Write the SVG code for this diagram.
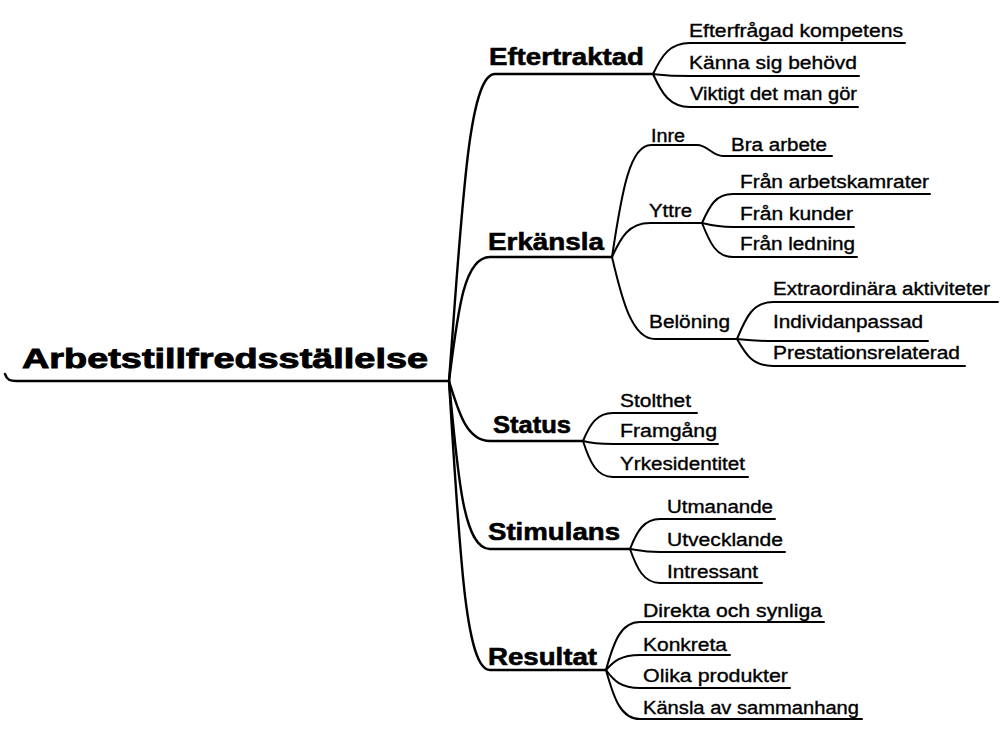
<svg xmlns="http://www.w3.org/2000/svg" width="1001" height="731" viewBox="0 0 1001 731">
  <style>
    .root { font-family: "Liberation Sans", Arial, sans-serif; font-weight: bold; font-size: 28px; fill: #000; stroke: #000; stroke-width: 0.9; }
    .main { font-family: "Liberation Sans", Arial, sans-serif; font-weight: bold; font-size: 24px; fill: #000; stroke: #000; stroke-width: 0.6; }
    .sub  { font-family: "Liberation Sans", Arial, sans-serif; font-size: 18px; fill: #000; stroke: #000; stroke-width: 0.35; }
    .leaf { font-family: "Liberation Sans", Arial, sans-serif; font-size: 18px; fill: #000; stroke: #000; stroke-width: 0.35; }
    .trunk { fill: none; stroke: #000; stroke-width: 2.4; stroke-linecap: round; stroke-linejoin: round; }
    .branch { fill: none; stroke: #000; stroke-width: 2; stroke-linecap: round; stroke-linejoin: round; }
  </style>
  <rect width="1001" height="731" fill="#fff"/>

  <!-- connectors: curved branches ending in the underline of each topic -->
  <g id="connectors">
    <!-- central topic underline -->
    <path class="trunk" d="M5,374 C7,380 10,381 16,381 L449,381"/>
    <!-- central topic to main topics -->
    <path class="trunk" d="M449,381 C462,212 468,74 495,74 L653,74"/>
    <path class="trunk" d="M449,381 C458,310 464,257 490,257 L612,257"/>
    <path class="trunk" d="M449,381 C458,410 466,441 490,441 L583,441"/>
    <path class="trunk" d="M449,381 C458,480 464,549 490,549 L630,549"/>
    <path class="trunk" d="M449,381 C460,560 466,670 490,670 L606,670"/>

    <!-- Eftertraktad -->
    <path class="branch" d="M653,74 C662,55 670,43 690,43 L905,43"/>
    <path class="branch" d="M653,74 C662,75 670,76 690,76 L859,76"/>
    <path class="branch" d="M653,74 C662,94 670,107 690,107 L858,107"/>

    <!-- Erkänsla -->
    <path class="branch" d="M612,257 C622,190 630,145 651,145 L697,145 C708,145 712,156 723,156 L832,156"/>
    <path class="branch" d="M612,257 C621,237 629,223 650,223 L702,223"/>
    <path class="branch" d="M612,257 C622,300 632,339 655,339 L737,339"/>

    <!-- Yttre -->
    <path class="branch" d="M702,223 C710,205 716,194 733,194 L930,194"/>
    <path class="branch" d="M702,223 C710,225 716,227 733,227 L854,227"/>
    <path class="branch" d="M702,223 C710,243 716,257 733,257 L857,257"/>

    <!-- Belöning -->
    <path class="branch" d="M737,339 C746,317 753,302 773,302 L998,302"/>
    <path class="branch" d="M737,339 C746,340 753,341 773,341 L928,341"/>
    <path class="branch" d="M737,339 C746,355 753,366 773,366 L965,366"/>

    <!-- Status -->
    <path class="branch" d="M583,441 C590,424 597,413 613,413 L697,413"/>
    <path class="branch" d="M583,441 C590,443 597,444 613,444 L718,444"/>
    <path class="branch" d="M583,441 C590,463 597,477 613,477 L748,477"/>

    <!-- Stimulans -->
    <path class="branch" d="M630,549 C637,531 644,519 660,519 L775,519"/>
    <path class="branch" d="M630,549 C637,550 644,552 660,552 L785,552"/>
    <path class="branch" d="M630,549 C637,569 644,583 660,583 L762,583"/>

    <!-- Resultat -->
    <path class="branch" d="M606,670 C614,641 621,622 640,622 L824,622"/>
    <path class="branch" d="M606,670 C614,661 621,655 640,655 L730,655"/>
    <path class="branch" d="M606,670 C614,681 621,688 640,688 L790,688"/>
    <path class="branch" d="M606,670 C614,699 621,719 640,719 L862,719"/>
  </g>

  <!-- central topic -->
  <g id="arbetstillfredsstallelse">
    <text class="root" x="22" y="368" textLength="406" lengthAdjust="spacingAndGlyphs">Arbetstillfredsställelse</text>
  </g>

  <!-- main topics -->
  <g id="eftertraktad">
    <text class="main" x="489" y="65" textLength="155" lengthAdjust="spacingAndGlyphs">Eftertraktad</text>
  </g>
  <g id="erkansla">
    <text class="main" x="488" y="250" textLength="116" lengthAdjust="spacingAndGlyphs">Erkänsla</text>
  </g>
  <g id="status">
    <text class="main" x="493" y="433" textLength="78" lengthAdjust="spacingAndGlyphs">Status</text>
  </g>
  <g id="stimulans">
    <text class="main" x="488" y="540" textLength="132" lengthAdjust="spacingAndGlyphs">Stimulans</text>
  </g>
  <g id="resultat">
    <text class="main" x="488" y="665" textLength="109" lengthAdjust="spacingAndGlyphs">Resultat</text>
  </g>

  <!-- Eftertraktad subtopics -->
  <g id="efterfragad-kompetens">
    <text class="leaf" x="689" y="37" textLength="214" lengthAdjust="spacingAndGlyphs">Efterfrågad kompetens</text>
  </g>
  <g id="kanna-sig-behovd">
    <text class="leaf" x="689" y="69" textLength="168" lengthAdjust="spacingAndGlyphs">Känna sig behövd</text>
  </g>
  <g id="viktigt-det-man-gor">
    <text class="leaf" x="690" y="100" textLength="167" lengthAdjust="spacingAndGlyphs">Viktigt det man gör</text>
  </g>

  <!-- Erkänsla subtopics -->
  <g id="inre">
    <text class="sub" x="651" y="142" textLength="34" lengthAdjust="spacingAndGlyphs">Inre</text>
  </g>
  <g id="bra-arbete">
    <text class="leaf" x="731" y="151" textLength="96" lengthAdjust="spacingAndGlyphs">Bra arbete</text>
  </g>
  <g id="yttre">
    <text class="sub" x="649" y="217" textLength="43" lengthAdjust="spacingAndGlyphs">Yttre</text>
  </g>
  <g id="fran-arbetskamrater">
    <text class="leaf" x="740" y="188" textLength="189" lengthAdjust="spacingAndGlyphs">Från arbetskamrater</text>
  </g>
  <g id="fran-kunder">
    <text class="leaf" x="740" y="220" textLength="113" lengthAdjust="spacingAndGlyphs">Från kunder</text>
  </g>
  <g id="fran-ledning">
    <text class="leaf" x="740" y="250" textLength="115" lengthAdjust="spacingAndGlyphs">Från ledning</text>
  </g>
  <g id="beloning">
    <text class="sub" x="649" y="328" textLength="81" lengthAdjust="spacingAndGlyphs">Belöning</text>
  </g>
  <g id="extraordinara-aktiviteter">
    <text class="leaf" x="773" y="295" textLength="217" lengthAdjust="spacingAndGlyphs">Extraordinära aktiviteter</text>
  </g>
  <g id="individanpassad">
    <text class="leaf" x="773" y="328" textLength="150" lengthAdjust="spacingAndGlyphs">Individanpassad</text>
  </g>
  <g id="prestationsrelaterad">
    <text class="leaf" x="773" y="359" textLength="187" lengthAdjust="spacingAndGlyphs">Prestationsrelaterad</text>
  </g>

  <!-- Status subtopics -->
  <g id="stolthet">
    <text class="leaf" x="620" y="407" textLength="71" lengthAdjust="spacingAndGlyphs">Stolthet</text>
  </g>
  <g id="framgang">
    <text class="leaf" x="620" y="437" textLength="97" lengthAdjust="spacingAndGlyphs">Framgång</text>
  </g>
  <g id="yrkesidentitet">
    <text class="leaf" x="620" y="470" textLength="125" lengthAdjust="spacingAndGlyphs">Yrkesidentitet</text>
  </g>

  <!-- Stimulans subtopics -->
  <g id="utmanande">
    <text class="leaf" x="667" y="513" textLength="106" lengthAdjust="spacingAndGlyphs">Utmanande</text>
  </g>
  <g id="utvecklande">
    <text class="leaf" x="667" y="546" textLength="116" lengthAdjust="spacingAndGlyphs">Utvecklande</text>
  </g>
  <g id="intressant">
    <text class="leaf" x="667" y="578" textLength="91" lengthAdjust="spacingAndGlyphs">Intressant</text>
  </g>

  <!-- Resultat subtopics -->
  <g id="direkta-och-synliga">
    <text class="leaf" x="643" y="617" textLength="179" lengthAdjust="spacingAndGlyphs">Direkta och synliga</text>
  </g>
  <g id="konkreta">
    <text class="leaf" x="643" y="651" textLength="84" lengthAdjust="spacingAndGlyphs">Konkreta</text>
  </g>
  <g id="olika-produkter">
    <text class="leaf" x="643" y="682" textLength="145" lengthAdjust="spacingAndGlyphs">Olika produkter</text>
  </g>
  <g id="kansla-av-sammanhang">
    <text class="leaf" x="643" y="714" textLength="216" lengthAdjust="spacingAndGlyphs">Känsla av sammanhang</text>
  </g>
</svg>
